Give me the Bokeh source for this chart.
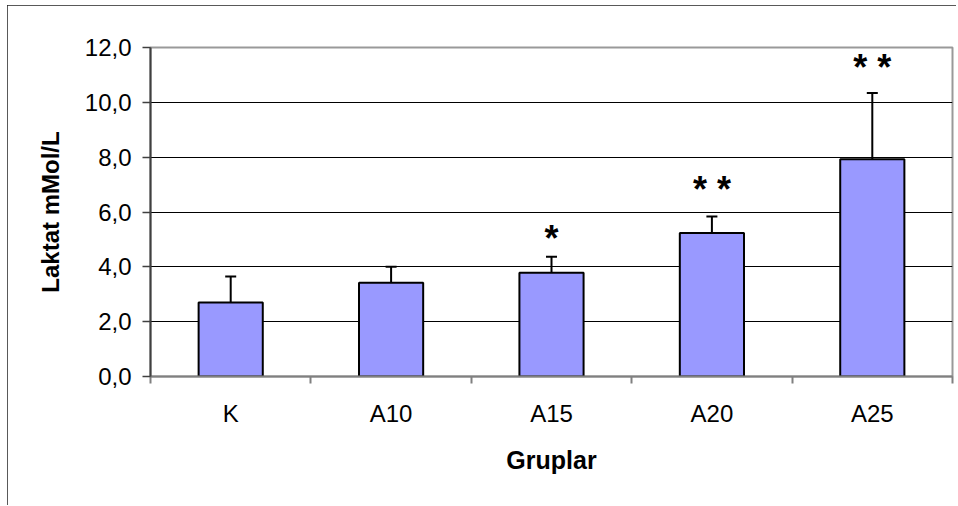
from bokeh.plotting import figure
from bokeh.models import ColumnDataSource, Range1d, FixedTicker, Whisker, TeeHead
from bokeh.core.properties import value
from bokeh.embed import file_html
from bokeh.resources import INLINE

# ---- data ----
groups = ["K", "A10", "A15", "A20", "A25"]
lactate_mean = [2.70, 3.42, 3.78, 5.23, 7.92]
lactate_sd = [0.95, 0.58, 0.59, 0.61, 2.42]
significance = ["", "", "*", "* *", "* *"]
sig_label_y = [0.0, 0.0, 5.04, 6.83, 11.28]
y_ticks = [0, 2, 4, 6, 8, 10, 12]
y_tick_labels = ["0,0", "2,0", "4,0", "6,0", "8,0", "10,0", "12,0"]

FONT = "Liberation Sans"

x_pos = [i + 0.5 for i in range(len(groups))]
upper = [m + s for m, s in zip(lactate_mean, lactate_sd)]
src = ColumnDataSource(dict(x=x_pos, top=lactate_mean, upper=upper))

sig_idx = [i for i, s in enumerate(significance) if s]
sig_src = ColumnDataSource(dict(
    x=[x_pos[i] for i in sig_idx],
    y=[sig_label_y[i] for i in sig_idx],
    t=[significance[i] for i in sig_idx],
))

p = figure(width=949, height=500, output_backend="svg", toolbar_location=None,
           x_range=Range1d(0, len(groups)), y_range=Range1d(0, y_ticks[-1]),
           min_border_left=143, min_border_right=4, min_border_top=42,
           min_border_bottom=129)
p.background_fill_color = "white"
p.border_fill_color = "white"
p.outline_line_color = "#999999"
p.outline_line_width = 2
p.styles = {"outline": "1px solid #222222", "outline-offset": "-1px",
            "margin-left": "7px", "margin-top": "5px"}

# grid
p.xgrid.visible = False
p.ygrid.ticker = FixedTicker(ticks=y_ticks)
p.ygrid.grid_line_color = "black"
p.ygrid.grid_line_width = 1

# bars
p.vbar(x="x", top="top", bottom=0, width=0.4, source=src,
       fill_color="#9999FF", line_color="black", line_width=2)

# error bars (upper only)
w = Whisker(base="x", lower="top", upper="upper", source=src,
            line_color="black", line_width=2,
            upper_head=TeeHead(size=11, line_color="black", line_width=2),
            lower_head=None)
p.add_layout(w)

# significance stars
p.text(x="x", y="y", text="t", source=sig_src, text_font=value(FONT),
       text_font_style="bold", text_font_size="36px", text_align="center",
       text_baseline="alphabetic", text_color="black")

# x axis
xa = p.xaxis[0]
xa.ticker = FixedTicker(ticks=x_pos, minor_ticks=list(range(len(groups) + 1)))
xa.major_label_overrides = {x: g for x, g in zip(x_pos, groups)}
xa.major_tick_line_color = None
xa.major_tick_out = 0
xa.major_tick_in = 0
xa.minor_tick_line_color = "#808080"
xa.minor_tick_line_width = 2
xa.minor_tick_out = 7
xa.minor_tick_in = 0
xa.axis_line_color = "#808080"
xa.axis_line_width = 2
xa.major_label_text_font = FONT
xa.major_label_text_font_size = "24px"
xa.major_label_text_color = "black"
xa.major_label_standoff = 16
xa.axis_label = "Gruplar"
xa.axis_label_text_font = FONT
xa.axis_label_text_font_style = "bold"
xa.axis_label_text_font_size = "25px"
xa.axis_label_text_color = "black"
xa.axis_label_standoff = 16

# y axis
ya = p.yaxis[0]
ya.ticker = FixedTicker(ticks=y_ticks)
ya.major_label_overrides = {t: l for t, l in zip(y_ticks, y_tick_labels)}
ya.minor_tick_line_color = None
ya.major_tick_out = 8
ya.major_tick_in = 0
ya.major_tick_line_color = "#404040"
ya.major_tick_line_width = 1.5
ya.axis_line_color = "#404040"
ya.axis_line_width = 2
ya.major_label_text_font = FONT
ya.major_label_text_font_size = "24px"
ya.major_label_text_color = "black"
ya.major_label_standoff = 11
ya.axis_label = "Laktat mMol/L"
ya.axis_label_text_font = FONT
ya.axis_label_text_font_style = "bold"
ya.axis_label_text_font_size = "24px"
ya.axis_label_text_color = "black"
ya.axis_label_standoff = 18

open("out.html", "w").write(file_html(p, INLINE))
